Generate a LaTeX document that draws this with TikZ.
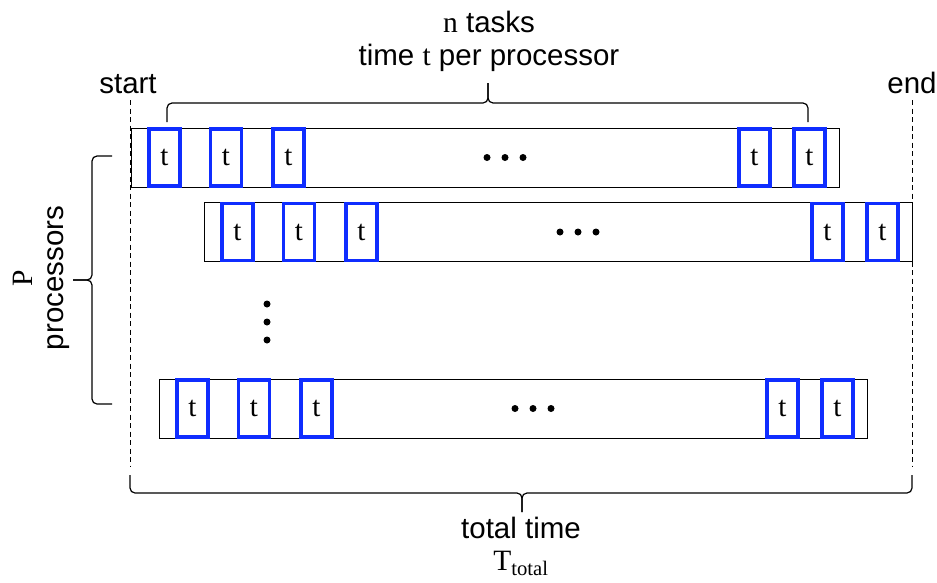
\documentclass[tikz,border=0pt]{standalone}
\usepackage{fontspec}
\setmainfont{Liberation Sans}
\newfontfamily\serif{Liberation Serif}
\definecolor{taskblue}{RGB}{15,45,255}
\tikzset{
	proc/.style={draw, line width=1pt, minimum width=708pt,
		minimum height=59pt, inner sep=0pt, anchor=west},
	task/.style={draw=taskblue, line width=3.2pt, fill=white,
		minimum width=31pt, minimum height=57pt, inner sep=0pt,
		font=\serif\fontsize{29}{29}\selectfont},
	brc/.style={rounded corners=5pt, line width=1.2pt},
	lbl/.style={font=\fontsize{29.5}{32}\selectfont, anchor=base,
		inner sep=0pt},
	limit/.style={dash pattern=on 5pt off 3.5pt, line width=1pt},
}

\begin{document}
\begin{tikzpicture}[x=1pt, y=-1pt]
	\useasboundingbox (0,0) rectangle (937,582);
	\coordinate (st1) at (130,100);
	\coordinate (st2) at (130,467);
	\coordinate (en1) at (912,100);
	\coordinate (en2) at (912,467);
	\draw [limit] (st1) -- (st2);
	\draw [limit] (en1) -- (en2);
	\node [lbl] (start) at (128,93) {start};
	\node [lbl] (end) at (912,93) {end};

	\node [proc] (r1) at (131,157.5) {};
	\node [proc] (r2) at (204,232) {};
	\node [proc] (r3) at (159,408.5) {};
	\foreach \r in {1,2,3} {
		\foreach \dx [count=\i] in {33.5,95,157.5,623.5,678.5}
			\node [task] (t\r\i) at ([xshift=\dx pt]r\r.west) {t};
		\foreach \dx in {356,374,392}
			\fill ([xshift=\dx pt]r\r.west) circle (3.5pt);
	}
	\foreach \y in {304,322,340}
		\fill (267,\y) circle (3.5pt);

	\coordinate (b1) at (167,122);
	\coordinate (b2) at (808,122);
	\coordinate (bm) at (488,103);
	\coordinate (btip) at (488,83);
	\draw [brc] (b1) |- (bm) -- (btip);
	\draw [brc] (b2) |- (bm) -- (btip);
	\node [lbl] (ntasks) at (489,32) {{\serif n} tasks};
	\node [lbl] (tper) at (489,65) {time {\serif t} per processor};

	\coordinate (p1) at (112,156);
	\coordinate (p2) at (112,404);
	\coordinate (pm) at (92,280);
	\coordinate (ptip) at (73,280);
	\draw [brc] (p1) -| (pm) -- (ptip);
	\draw [brc] (p2) -| (pm) -- (ptip);
	\node [lbl, rotate=90] (pnum) at (32,278) {\serif P};
	\node [lbl, rotate=90] (procs) at (63,278) {processors};

	\coordinate (c1) at (130,475);
	\coordinate (c2) at (912,475);
	\coordinate (cm) at (522,493);
	\coordinate (ctip) at (522,512);
	\draw [brc] (c1) |- (cm) -- (ctip);
	\draw [brc] (c2) |- (cm) -- (ctip);
	\node [lbl] (total) at (521,538) {total time};
	\node [lbl] (ttot) at (521,570) {\serif T\textsubscript{total}};
\end{tikzpicture}
\end{document}
